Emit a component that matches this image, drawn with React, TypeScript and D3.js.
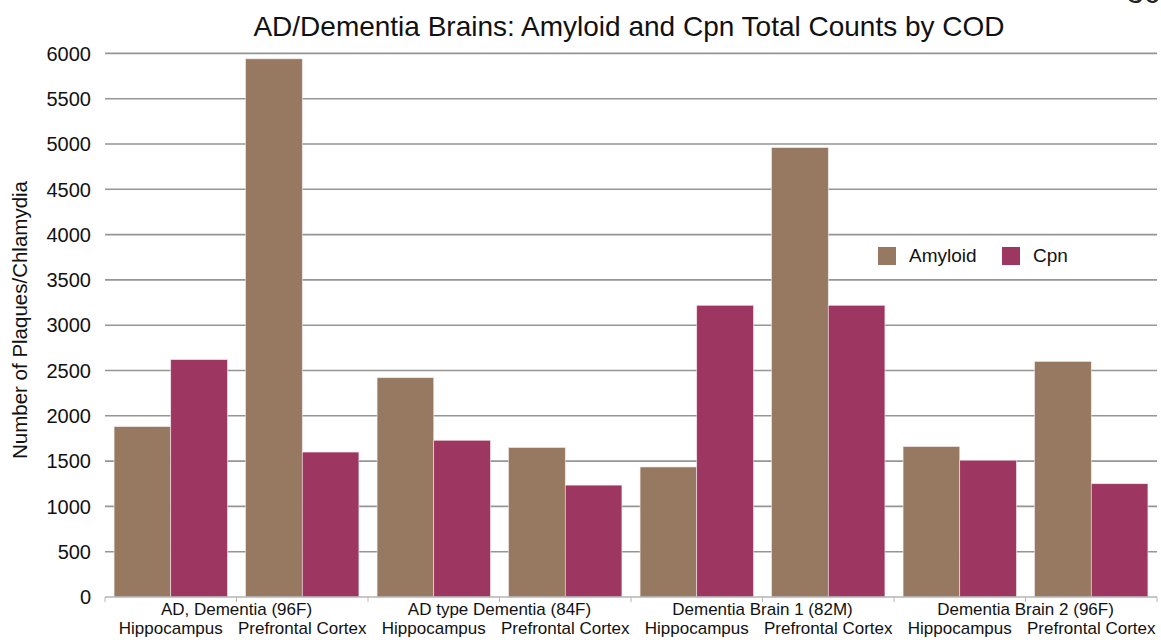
import React from "react";
import * as d3 from "d3";

// Sample groups (brain / cause of death) and the regions sampled in each.
const groups = [
  "AD, Dementia (96F)",
  "AD type Dementia (84F)",
  "Dementia Brain 1 (82M)",
  "Dementia Brain 2 (96F)",
];
const regions = ["Hippocampus", "Prefrontal Cortex"];

// Total counts per (group, region), in the order of groups × regions.
const amyloid = [1880, 5940, 2420, 1650, 1435, 4960, 1660, 2600];
const cpn = [2620, 1600, 1730, 1235, 3220, 3220, 1510, 1250];

const seriesNames = ["Amyloid", "Cpn"];
const seriesColors = ["#977860", "#9e3662"];
const yTicks = [0, 500, 1000, 1500, 2000, 2500, 3000, 3500, 4000, 4500, 5000, 5500, 6000];

const W = 1161;
const H = 640;
const FONT = "'Liberation Sans', Arial, Helvetica, sans-serif";

export default function App() {
  const categories = groups.flatMap((g) => regions.map((r) => `${g}|${r}`));
  const rows = categories.map((c, i) => ({ key: c, values: [amyloid[i], cpn[i]] }));

  const x = d3.scaleBand<string>().domain(categories).range([105, 1157]).paddingInner(0.138).paddingOuter(0.069);
  const xs = d3.scaleBand<string>().domain(seriesNames).range([0, x.bandwidth()]);
  const y = d3.scaleLinear().domain([0, 6000]).range([597, 53.4]);

  const step = x.step();
  const x0 = 105;
  const boundaries = d3.range(categories.length + 1).map((i) => x0 + i * step);

  return (
    <svg
      width={W}
      height={H}
      style={{ position: "absolute", left: 0, top: 0, background: "#fff" }}
      fontFamily={FONT}
    >
      {/* page number, cut by the top edge */}
      <text x={1127} y={3} fontSize={30} fill="#222">36</text>

      <text x={629} y={36} textAnchor="middle" fontSize={28} fill="#111">
        AD/Dementia Brains: Amyloid and Cpn Total Counts by COD
      </text>

      {/* gridlines */}
      {yTicks.filter((t) => t > 0).map((t) => (
        <line key={t} x1={105} x2={1157} y1={y(t)} y2={y(t)} stroke="#959595" strokeWidth={1.6} />
      ))}

      {/* y tick labels */}
      {yTicks.map((t) => (
        <text key={t} x={91} y={y(t)} dy="0.36em" textAnchor="end" fontSize={20} fill="#111">
          {t}
        </text>
      ))}

      <text
        transform={`translate(20,320) rotate(-90)`}
        textAnchor="middle"
        dy="0.36em"
        fontSize={20.5}
        fill="#111"
      >
        Number of Plaques/Chlamydia
      </text>

      {/* bars */}
      {rows.map((row) => (
        <g key={row.key} transform={`translate(${x(row.key)},0)`}>
          {row.values.map((v, j) => (
            <rect
              key={j}
              x={xs(seriesNames[j])}
              y={y(v)}
              width={xs.bandwidth()}
              height={y(0) - y(v)}
              fill={seriesColors[j]}
              stroke="#f3e6e6"
              strokeWidth={0.6}
            />
          ))}
        </g>
      ))}

      {/* x axis */}
      <line x1={105} x2={1157} y1={y(0)} y2={y(0)} stroke="#b5b5b5" strokeWidth={1.4} />
      {boundaries.map((bx, i) => (
        <line key={i} x1={bx} x2={bx} y1={y(0)} y2={y(0) + 5} stroke="#b5b5b5" strokeWidth={1} />
      ))}

      {/* region labels */}
      {categories.map((c, i) => (
        <text
          key={c}
          x={(x(c) ?? 0) + x.bandwidth() / 2}
          y={634}
          textAnchor="middle"
          fontSize={17}
          fill="#111"
        >
          {regions[i % regions.length]}
        </text>
      ))}

      {/* group labels */}
      {groups.map((g, gi) => (
        <text
          key={g}
          x={x0 + (gi * 2 + 1) * step}
          y={615}
          textAnchor="middle"
          fontSize={17}
          fill="#111"
        >
          {g}
        </text>
      ))}

      {/* legend */}
      {seriesNames.map((s, i) => {
        const lx = [878, 1002][i];
        return (
          <g key={s}>
            <rect x={lx} y={247} width={18} height={18} fill={seriesColors[i]} />
            <text x={lx + 31} y={262} fontSize={19} fill="#111">
              {s}
            </text>
          </g>
        );
      })}
    </svg>
  );
}
